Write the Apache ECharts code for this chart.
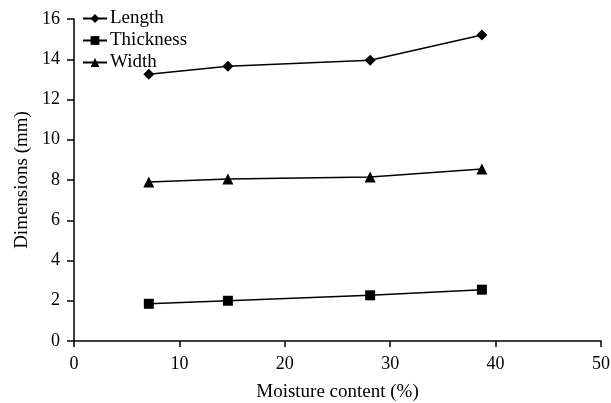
<!DOCTYPE html>
<html><head><meta charset="utf-8">
<script src="https://cdn.jsdelivr.net/npm/echarts@6/dist/echarts.min.js"></script>
<style>html,body{margin:0;padding:0;background:#fff}#c{width:611px;height:403px}</style>
</head><body><div id="c"></div>
<script>
const moisture = [7.1, 14.6, 28.1, 38.7];
const lengthVals = [13.25, 13.65, 13.95, 15.2];
const thicknessVals = [1.85, 2.0, 2.27, 2.55];
const widthVals = [7.9, 8.05, 8.15, 8.55];
const seriesNames = ['Length', 'Thickness', 'Width'];

const font = 'Liberation Serif, Times New Roman, serif';
function pts(ys){ return moisture.map((x,i)=>[x, ys[i]]); }
function mk(name, ys, sym, size){
  return {name, type:'line', data:pts(ys), symbol:sym, symbolSize:size,
    lineStyle:{color:'#000', width:1.5}, itemStyle:{color:'#000'}, animation:false};
}
const chart = echarts.init(document.getElementById('c'), null, {renderer:'canvas'});
chart.setOption({
  backgroundColor:'#fff',
  animation:false,
  grid:{left:74, right:10, top:19, bottom:62, containLabel:false, outerBoundsMode:'none'},
  legend:{orient:'vertical', left:77, top:4, itemGap:3, itemWidth:24, itemHeight:11,
    textStyle:{fontFamily:font, fontSize:19, lineHeight:19, color:'#000', padding:[0,0,0,-2]},
    data:seriesNames},
  xAxis:{type:'value', min:0, max:50, interval:10,
    name:'Moisture content (%)', nameLocation:'middle', nameGap:42,
    nameTextStyle:{fontFamily:font, fontSize:19, color:'#000'},
    axisLine:{lineStyle:{color:'#000', width:1.5}, onZero:false},
    axisTick:{length:6, lineStyle:{color:'#000', width:1.5}},
    axisLabel:{fontFamily:font, fontSize:18, color:'#000', margin:14},
    splitLine:{show:false}},
  yAxis:{type:'value', min:0, max:16, interval:2,
    name:'Dimensions (mm)', nameLocation:'middle', nameGap:42,
    nameTextStyle:{fontFamily:font, fontSize:19, color:'#000'},
    axisLine:{show:true, lineStyle:{color:'#000', width:1.5}},
    axisTick:{show:true, length:7, lineStyle:{color:'#000', width:1.5}},
    axisLabel:{fontFamily:font, fontSize:18, color:'#000', margin:14},
    splitLine:{show:false}},
  series:[
    mk('Length', lengthVals, 'diamond', 11),
    mk('Thickness', thicknessVals, 'rect', 10),
    mk('Width', widthVals, 'triangle', 11)
  ]
});
</script></body></html>
